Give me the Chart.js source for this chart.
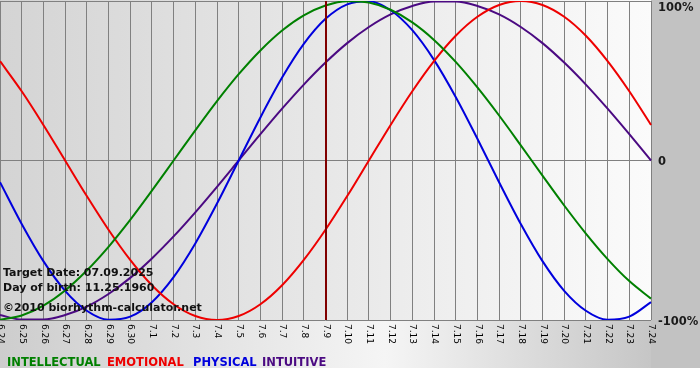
<!DOCTYPE html>
<html>
<head>
<meta charset="utf-8">
<script src="https://cdn.jsdelivr.net/npm/chart.js@4"></script>
<style>
html,body{margin:0;padding:0;background:#fff;}
canvas{display:block;}
</style>
</head>
<body>
<canvas id="c" width="700" height="380"></canvas>
<script>
const dates = ['6.24','6.25','6.26','6.27','6.28','6.29','6.30','7.1','7.2','7.3','7.4','7.5','7.6','7.7','7.8','7.9','7.10','7.11','7.12','7.13','7.14','7.15','7.16','7.17','7.18','7.19','7.20','7.21','7.22','7.23','7.24'];
const intellectual = [-99.9,-97.2,-91,-81.5,-69,-54.1,-37.2,-18.9,0,18.9,37.2,54.1,69,81.5,91,97.2,99.9,99,94.5,86.6,75.6,61.8,45.8,28.2,9.5,-9.5,-28.2,-45.8,-61.8,-75.6,-86.6];
const emotional = [62.3,43.4,22.3,0,-22.3,-43.4,-62.3,-78.2,-90.1,-97.5,-100,-97.5,-90.1,-78.2,-62.3,-43.4,-22.3,0,22.3,43.4,62.3,78.2,90.1,97.5,100,97.5,90.1,78.2,62.3,43.4,22.3];
const physical = [-13.6,-39.8,-63.1,-81.7,-94.2,-99.8,-97.9,-88.8,-73.1,-52,-27,0,27,52,73.1,88.8,97.9,99.8,94.2,81.7,63.1,39.8,13.6,-13.6,-39.8,-63.1,-81.7,-94.2,-99.8,-97.9,-88.8];
const intuitive = [-96.9,-99.7,-99.7,-96.9,-91.6,-83.7,-73.6,-61.4,-47.6,-32.5,-16.5,0,16.5,32.5,47.6,61.4,73.6,83.7,91.6,96.9,99.7,99.7,96.9,91.6,83.7,73.6,61.4,47.6,32.5,16.5,0];
const yTickValues = [100, 0, -100];
const yTickLabels = ['100%', '0', '-100%'];
const targetDate = '7.9';
const infoLines = ['Target Date: 07.09.2025', 'Day of birth: 11.25.1960', '\u00A92010 biorhythm-calculator.net'];
const seriesNames = ['INTELLECTUAL', 'EMOTIONAL', 'PHYSICAL', 'INTUITIVE'];
const seriesColors = ['#008000', '#ee0000', '#0000dd', '#4b0a82'];

const decor = {
  id: 'decor',
  beforeDraw(chart) {
    const {ctx, chartArea: ca, width, height} = chart;
    ctx.save();
    ctx.fillStyle = '#ffffff';
    ctx.fillRect(0, 0, width, height);
    const g = ctx.createLinearGradient(0, 0, width, 0);
    g.addColorStop(0, '#cdcdcd');
    g.addColorStop(0.55, '#f5f5f5');
    g.addColorStop(0.93, '#c6c6c6');
    g.addColorStop(1, '#c2c2c2');
    ctx.fillStyle = g;
    ctx.fillRect(0, 0, width, 368);
    ctx.fillStyle = '#c2c2c2';
    ctx.fillRect(ca.right, 0, width - ca.right, 368);
    const g2 = ctx.createLinearGradient(ca.left, 0, ca.right, 0);
    g2.addColorStop(0, '#d4d4d4');
    g2.addColorStop(1, '#fbfbfb');
    ctx.fillStyle = g2;
    ctx.fillRect(0, 0, ca.right, ca.bottom);
    ctx.restore();
  },
  afterDatasetsDraw(chart) {
    const {ctx, chartArea: ca, scales} = chart;
    const x = Math.round(scales.x.getPixelForValue(dates.indexOf(targetDate)));
    ctx.save();
    ctx.strokeStyle = '#800000';
    ctx.lineWidth = 2;
    ctx.beginPath();
    ctx.moveTo(x, ca.top);
    ctx.lineTo(x, ca.bottom);
    ctx.stroke();
    ctx.restore();
  },
  afterDraw(chart) {
    const {ctx, chartArea: ca, scales} = chart;
    ctx.save();
    ctx.font = '9px "DejaVu Sans"';
    ctx.fillStyle = '#000';
    ctx.textAlign = 'left';
    ctx.textBaseline = 'middle';
    dates.forEach((d, i) => {
      const x = scales.x.getPixelForValue(i);
      ctx.save();
      ctx.translate(x + 0.5, ca.bottom + 4);
      ctx.rotate(Math.PI / 2);
      ctx.fillText(d, 0, 0);
      ctx.restore();
    });
    ctx.font = 'bold 11.5px "DejaVu Sans"';
    ctx.fillStyle = '#1a1a1a';
    yTickValues.forEach((v, i) => {
      const y = scales.y.getPixelForValue(v);
      ctx.fillText(yTickLabels[i], ca.right + 7, Math.max(y + 2, ca.top + 7));
    });
    ctx.font = 'bold 11px "DejaVu Sans"';
    ctx.textBaseline = 'alphabetic';
    ctx.fillStyle = '#111';
    const ys = [276, 291, 311];
    infoLines.forEach((t, i) => ctx.fillText(t, 3, ys[i]));
    ctx.font = 'bold 11.5px "DejaVu Sans"';
    const lx = [7, 107, 193, 262];
    chart.data.datasets.forEach((ds, i) => {
      ctx.fillStyle = ds.borderColor;
      ctx.fillText(ds.label, lx[i], 366);
    });
    ctx.restore();
  }
};

new Chart(document.getElementById('c'), {
  type: 'line',
  data: {
    labels: dates,
    datasets: [
      {label: seriesNames[0], data: intellectual, borderColor: seriesColors[0]},
      {label: seriesNames[1], data: emotional, borderColor: seriesColors[1]},
      {label: seriesNames[2], data: physical, borderColor: seriesColors[2]},
      {label: seriesNames[3], data: intuitive, borderColor: seriesColors[3]}
    ]
  },
  options: {
    responsive: false,
    animation: false,
    devicePixelRatio: 1,
    layout: {padding: {left: 0, top: 1, right: 49, bottom: 60}},
    elements: {
      line: {borderWidth: 2, cubicInterpolationMode: 'monotone', fill: false},
      point: {radius: 0, hoverRadius: 0}
    },
    plugins: {legend: {display: false}, tooltip: {enabled: false}},
    scales: {
      x: {
        type: 'category',
        offset: false,
        grid: {color: '#808080', lineWidth: 1, drawTicks: false},
        border: {display: false},
        ticks: {display: false}
      },
      y: {
        position: 'right',
        min: -100,
        max: 100,
        grid: {color: '#808080', lineWidth: 1, drawTicks: false},
        border: {display: false},
        ticks: {display: false, stepSize: 100}
      }
    }
  },
  plugins: [decor]
});
</script>
</body>
</html>
